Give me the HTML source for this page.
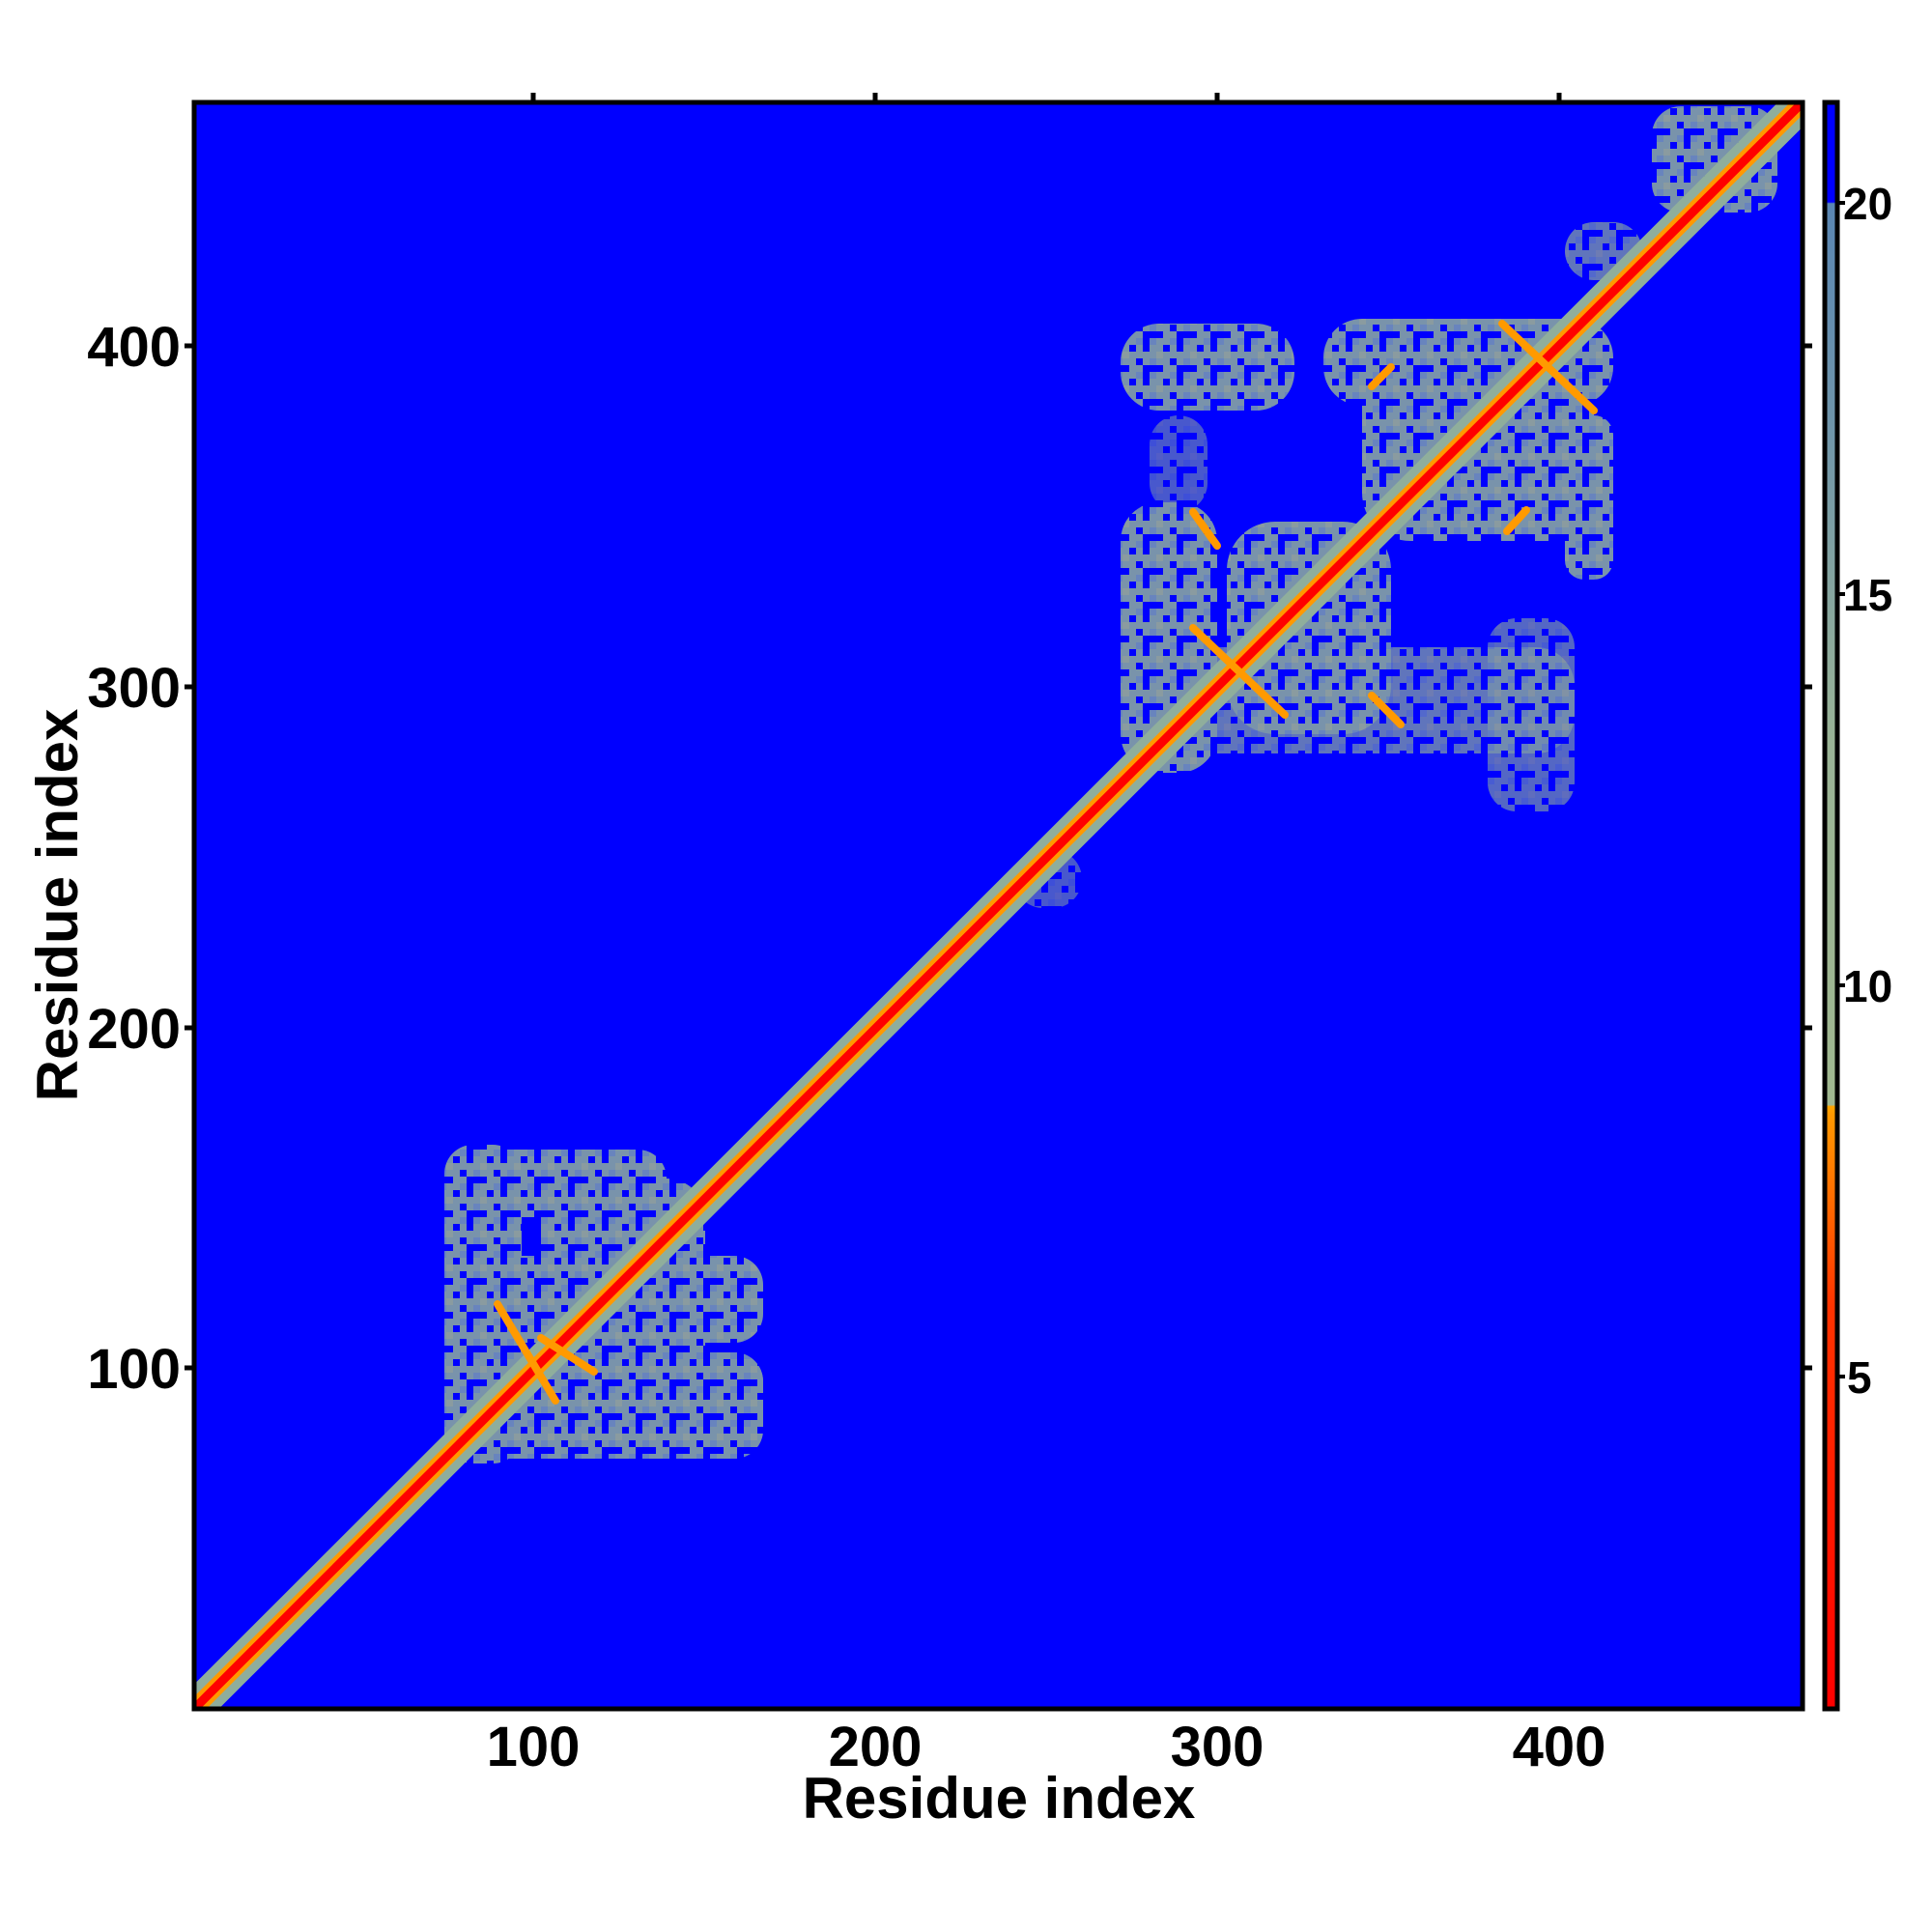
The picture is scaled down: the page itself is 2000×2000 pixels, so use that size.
<!DOCTYPE html>
<html><head><style>
body{margin:0;background:#fff;}
svg{display:block;font-family:"Liberation Sans",sans-serif;font-weight:bold;}
</style></head><body>
<svg width="2000" height="2000" viewBox="0 0 2000 2000" xmlns="http://www.w3.org/2000/svg">
<defs>
<clipPath id="c"><rect x="201" y="106" width="1665" height="1663"/></clipPath>
<pattern id="tex" width="35" height="35" patternUnits="userSpaceOnUse">
<rect width="35" height="35" fill="#8fae9c"/>
<rect x="0" y="0" width="7" height="7" fill="#7b9cb3"/>
<rect x="14" y="7" width="7" height="7" fill="#0000ff"/>
<rect x="7" y="14" width="7" height="7" fill="#a3b88f"/>
<rect x="21" y="21" width="7" height="7" fill="#0000ff"/>
<rect x="28" y="0" width="7" height="14" fill="#0000ff"/>
<rect x="0" y="28" width="14" height="7" fill="#0000ff"/>
<rect x="21" y="0" width="7" height="7" fill="#7b9cb3"/>
<rect x="0" y="21" width="7" height="7" fill="#7b9cb3"/>
<rect x="28" y="28" width="7" height="7" fill="#0000ff"/>
</pattern>
<linearGradient id="cb" x1="0" y1="1" x2="0" y2="0">
<stop offset="0" stop-color="#ff0000"/>
<stop offset="0.25" stop-color="#ff3300"/>
<stop offset="0.37" stop-color="#ff9900"/>
<stop offset="0.375" stop-color="#ffa500"/>
<stop offset="0.376" stop-color="#a0b890"/>
<stop offset="0.6" stop-color="#9ab496"/>
<stop offset="0.8" stop-color="#6f95aa"/>
<stop offset="0.937" stop-color="#5a86b3"/>
<stop offset="0.938" stop-color="#0000ff"/>
<stop offset="1" stop-color="#0000ff"/>
</linearGradient>
</defs>
<rect x="201" y="106" width="1665" height="1663" fill="#0000ff"/>
<g clip-path="url(#c)">
<g fill="url(#tex)" opacity="0.85">
<!-- domain 1 -->
<rect x="460" y="1185" width="80" height="330" rx="30"/>
<rect x="460" y="1300" width="330" height="90" rx="30"/>
<rect x="460" y="1400" width="330" height="110" rx="30"/>
<rect x="560" y="1220" width="170" height="280" rx="40"/>
<rect x="710" y="1400" width="80" height="110" rx="30"/>
<rect x="460" y="1190" width="230" height="70" rx="30"/>
<!-- domain 2 -->
<rect x="1160" y="335" width="180" height="90" rx="40"/>
<rect x="1370" y="330" width="300" height="90" rx="40"/>
<rect x="1160" y="520" width="100" height="280" rx="40"/>
<rect x="1270" y="540" width="170" height="220" rx="50"/>
<rect x="1410" y="330" width="240" height="230" rx="50"/>
<rect x="1160" y="670" width="470" height="110" rx="40" opacity="0.8"/>
<rect x="1540" y="640" width="90" height="200" rx="30" opacity="0.7"/>
<rect x="1190" y="430" width="60" height="100" rx="30" opacity="0.6"/>
<rect x="1620" y="430" width="50" height="170" rx="20"/>
<rect x="1710" y="110" width="130" height="110" rx="30"/>
<rect x="1620" y="230" width="80" height="60" rx="30" opacity="0.8"/>
<rect x="1050" y="880" width="70" height="60" rx="30" opacity="0.6"/>
</g>
<line x1="201" y1="1769" x2="1866" y2="106" stroke="#8fae9c" stroke-width="36"/>
<line x1="201" y1="1769" x2="1866" y2="106" stroke="#ff9900" stroke-width="18"/>
<line x1="201" y1="1769" x2="1866" y2="106" stroke="#ff0000" stroke-width="9"/>
<g stroke="#ff9a00" stroke-width="8" stroke-linecap="round">
<line x1="515" y1="1350" x2="575" y2="1450"/>
<line x1="560" y1="1385" x2="615" y2="1420"/>
<line x1="1235" y1="650" x2="1330" y2="740"/>
<line x1="1235" y1="530" x2="1260" y2="565"/>
<line x1="1420" y1="720" x2="1450" y2="750"/>
<line x1="1555" y1="335" x2="1650" y2="425"/>
<line x1="1420" y1="400" x2="1440" y2="380"/>
<line x1="1560" y1="550" x2="1580" y2="528"/>
</g>
</g>
<rect x="201" y="106" width="1665" height="1663" fill="none" stroke="#000" stroke-width="5"/>
<g stroke="#000" stroke-width="5">
<line x1="552" y1="106" x2="552" y2="96"/><line x1="906" y1="106" x2="906" y2="96"/>
<line x1="1260" y1="106" x2="1260" y2="96"/><line x1="1614" y1="106" x2="1614" y2="96"/>
<line x1="201" y1="1416" x2="191" y2="1416"/><line x1="201" y1="1064" x2="191" y2="1064"/>
<line x1="201" y1="711" x2="191" y2="711"/><line x1="201" y1="358" x2="191" y2="358"/>
<line x1="1866" y1="1416" x2="1876" y2="1416"/><line x1="1866" y1="1064" x2="1876" y2="1064"/>
<line x1="1866" y1="711" x2="1876" y2="711"/><line x1="1866" y1="358" x2="1876" y2="358"/>
</g>
<g font-size="58" fill="#000">
<text x="552" y="1828" text-anchor="middle">100</text>
<text x="906" y="1828" text-anchor="middle">200</text>
<text x="1260" y="1828" text-anchor="middle">300</text>
<text x="1614" y="1828" text-anchor="middle">400</text>
<text x="187" y="1437" text-anchor="end">100</text>
<text x="187" y="1085" text-anchor="end">200</text>
<text x="187" y="732" text-anchor="end">300</text>
<text x="187" y="379" text-anchor="end">400</text>
</g>
<text x="1034" y="1882" font-size="60" text-anchor="middle">Residue index</text>
<text transform="translate(80,937) rotate(-90)" font-size="60" text-anchor="middle">Residue index</text>
<rect x="1889" y="106" width="13" height="1663" fill="url(#cb)" stroke="#000" stroke-width="5"/>
<g stroke="#000" stroke-width="4">
<line x1="1902" y1="210" x2="1910" y2="210"/><line x1="1902" y1="615" x2="1910" y2="615"/>
<line x1="1902" y1="1020" x2="1910" y2="1020"/><line x1="1902" y1="1425" x2="1910" y2="1425"/>
</g>
<g font-size="46" fill="#000">
<text x="1908" y="227">20</text><text x="1908" y="632">15</text>
<text x="1908" y="1037">10</text><text x="1912" y="1442">5</text>
</g>
</svg>
</body></html>
